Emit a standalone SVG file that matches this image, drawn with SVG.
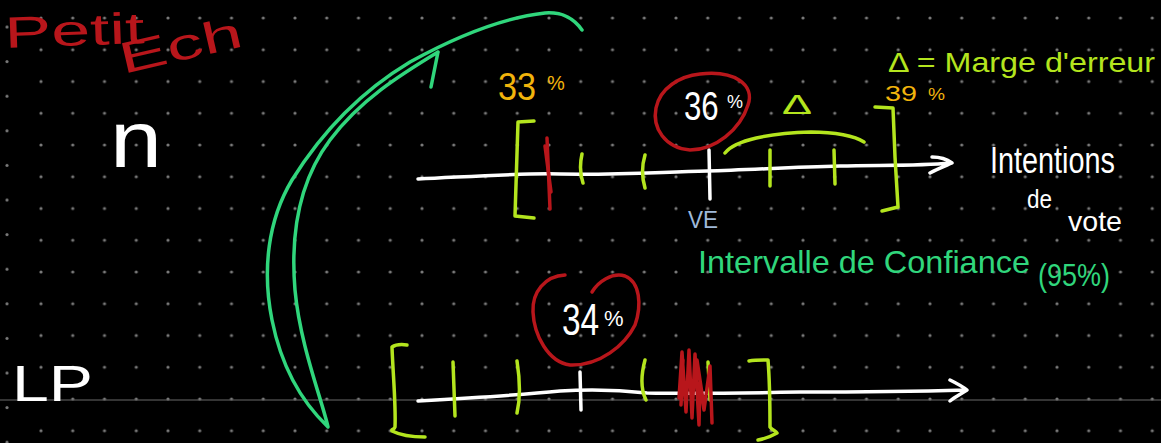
<svg xmlns="http://www.w3.org/2000/svg" width="1161" height="443" viewBox="0 0 1161 443">
<defs>
<pattern id="dots" x="25.125" y="2.125" width="31.75" height="31.75" patternUnits="userSpaceOnUse">
<circle cx="15.875" cy="15.875" r="1.6" fill="#7a7a7a"/>
</pattern>
<pattern id="dots2" x="0" y="9.7" width="14" height="34.6" patternUnits="userSpaceOnUse">
<circle cx="7" cy="17.3" r="1.6" fill="#7a7a7a"/>
</pattern>
</defs>
<style>
.s{fill:none;stroke-linecap:round;stroke-linejoin:round;stroke-width:3.5}
.w{stroke:#ffffff}
.l{stroke:#b4e51e}
.r{stroke:#b8161b}
.g{stroke:#30d67c}
.t{font-family:"Liberation Sans","DejaVu Sans",sans-serif}
.tw{fill:#ffffff}
.tl{fill:#b4e51e}
.tr{fill:#b8161b}
.tg{fill:#30d67c}
.to{fill:#f2b40c}
.tb{fill:#9fb9d9}
</style>
<rect width="1161" height="443" fill="#000000"/>
<rect x="25" y="0" width="1136" height="443" fill="url(#dots)"/>
<rect x="0" y="0" width="14" height="443" fill="url(#dots2)"/>
<line x1="0" y1="400" x2="1161" y2="400" stroke="#6a6a6a" stroke-width="1"/>

<g id="title">
<text class="t tr" x="5" y="48" font-size="44" textLength="140" lengthAdjust="spacingAndGlyphs" transform="rotate(-2 5 48)">Petit</text>
<text class="t tr" x="123" y="74" font-size="44" textLength="125" lengthAdjust="spacingAndGlyphs" transform="rotate(-13 123 74)">Ech</text>
</g>
<g id="n-label"><text class="t tw" x="110" y="167" font-size="80" textLength="52" lengthAdjust="spacingAndGlyphs">n</text></g>
<g id="lp-label"><text class="t tw" x="12" y="401" font-size="50" textLength="81" lengthAdjust="spacingAndGlyphs">LP</text></g>

<g id="connectors">
<path class="s g" d="M582,30 C572,16 560,12 545,13 C500,18 450,40 410,62 C360,92 320,135 292,180 C268,220 262,270 272,320 C282,370 305,405 328,427 C322,400 300,345 295,290 C290,230 300,180 330,140 C360,100 400,75 438,52 M438,52 L431,87"/>
</g>

<g id="top-axis">
<path class="s w" d="M418,179 C480,176 520,173 560,174 C620,175 660,172 707,171 C750,170 790,167 840,166 C880,165 920,166 950,163 M932,157 C942,157 948,160 952,163 C945,166 937,169 930,173"/>
<path class="s w" d="M709,150 L710,199"/>
<path class="s l" d="M534,121 L518,122 L515,216 L534,218"/>
<path class="s l" d="M875,107 L893,108 L895,157 L898,207 L882,211"/>
<path class="s l" d="M582,154 C580,163 580,174 583,183 M645,155 C642,165 642,178 645,188 M770,150 L770,186 M834,150 L835,184"/>
<path class="s r" stroke-width="6" d="M547,138 L550,209"/>
<path class="s r" stroke-width="4" d="M545,146 L551,192"/>
<path class="s l" d="M725,153 C735,140 770,133 811,132 C835,132 855,136 864,142"/>
<text class="t tl" x="782" y="114" font-size="28" textLength="30" lengthAdjust="spacingAndGlyphs">Δ</text>
<text class="t tb" x="688" y="228" font-size="24" textLength="30" lengthAdjust="spacingAndGlyphs">VE</text>
</g>

<g id="label-33">
<text class="t to" transform="translate(498 100) scale(0.9 1)" font-size="38">33</text>
<text class="t to" x="547" y="90" font-size="20">%</text>
</g>
<g id="label-36">
<path class="s r" stroke-width="3" d="M700,74 C735,70 755,85 748,105 C740,130 715,150 690,150 C665,148 652,128 656,108 C660,88 680,76 700,74 Z"/>
<text class="t tw" transform="translate(684 120) scale(0.78 1)" font-size="40">36</text>
<text class="t tw" x="727" y="108" font-size="18">%</text>
</g>
<g id="label-34">
<path class="s r" stroke-width="3" d="M565,275 C545,276 532,292 533,312 C534,335 548,362 570,365 C600,366 625,345 635,325 C642,305 640,282 625,276 C612,272 598,282 592,292"/>
<text class="t tw" transform="translate(562 335) scale(0.76 1)" font-size="44">34</text>
<text class="t tw" x="604" y="326" font-size="22">%</text>
</g>

<g id="bottom-axis">
<path class="s w" d="M418,401 C470,398 520,395 560,391 C590,389 620,390 647,393 C700,394 750,393 800,392 C880,392 930,391 966,390 M950,380 C956,383 962,386 967,390 C961,394 955,397 950,401"/>
<path class="s w" d="M580,372 L581,410"/>
<path class="s l" d="M407,345 C400,344 395,345 392,347 C393,375 396,405 395,427 C394,430 391,429 392,431 C400,435 412,437 425,437"/>
<path class="s l" d="M453,362 L455,416 M517,361 C520,380 520,400 517,413 M645,360 C641,375 641,390 646,400 M708,362 L710,400"/>
<path class="s l" d="M749,361 C755,360 762,360 768,360 C770,385 770,410 770,427 C772,430 776,431 777,433 C770,437 765,439 758,440"/>
<path class="s r" stroke-width="3" d="M679,398 L682,352 L686,412 L689,350 L692,418 L695,354 L699,425 L700,382 L704,410 L710,366 L712,423 M683,360 L681,405 M697,360 L703,400"/>
</g>

<g id="legend">
<text class="t tl" x="888" y="72" font-size="28" textLength="267" lengthAdjust="spacingAndGlyphs">Δ = Marge d'erreur</text>
<text class="t to" x="885" y="101" font-size="22" textLength="32" lengthAdjust="spacingAndGlyphs">39</text>
<text class="t to" x="928" y="100" font-size="17" textLength="17" lengthAdjust="spacingAndGlyphs">%</text>
</g>
<g id="axis-label">
<text class="t tw" x="990" y="173" font-size="36" textLength="125" lengthAdjust="spacingAndGlyphs">Intentions</text>
<text class="t tw" x="1027" y="208" font-size="26" textLength="25" lengthAdjust="spacingAndGlyphs">de</text>
<text class="t tw" x="1068" y="231" font-size="28" textLength="54" lengthAdjust="spacingAndGlyphs">vote</text>
</g>
<g id="ic-label">
<text class="t tg" x="698" y="273" font-size="32" textLength="332" lengthAdjust="spacingAndGlyphs">Intervalle de Confiance</text>
<text class="t tg" x="1038" y="286" font-size="32" textLength="72" lengthAdjust="spacingAndGlyphs">(95%)</text>
</g>
</svg>
